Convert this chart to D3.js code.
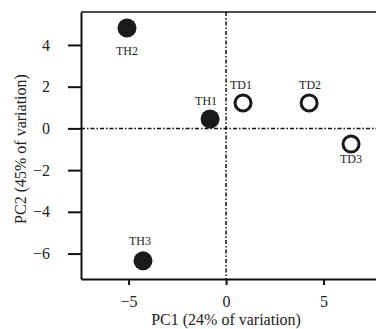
<!DOCTYPE html>
<html>
<head>
<meta charset="utf-8">
<script src="https://cdn.jsdelivr.net/npm/d3@7"></script>
<style>
  body { margin: 0; background: #fff; }
  text { font-family: "Liberation Serif", "Times New Roman", serif; fill: #222; }
</style>
</head>
<body>
<div id="container"></div>
<script>
const samples = ["TH1", "TH2", "TH3", "TD1", "TD2", "TD3"];
const pc1 = [-0.82, -5.08, -4.26, 0.87, 4.26, 6.41];
const pc2 = [0.45, 4.81, -6.35, 1.22, 1.22, -0.75];
const filled = [true, true, true, false, false, false];
const xTicks = [-5, 0, 5];
const yTicks = [-6, -4, -2, 0, 2, 4];

const width = 376;
const height = 329;
const margin = { top: 12, right: 0, bottom: 50, left: 81 };

const svg = d3.select("#container").append("svg")
    .attr("width", width)
    .attr("height", height);

const x = d3.scaleLinear()
    .domain([-7.44, 7.69])
    .range([margin.left, width - margin.right]);

const y = d3.scaleLinear()
    .domain([-7.22, 5.58])
    .range([height - margin.bottom, margin.top]);

// zero reference lines
const dash = "4,2,1.5,2";
svg.append("line")
    .attr("x1", margin.left).attr("x2", width)
    .attr("y1", y(0)).attr("y2", y(0))
    .attr("stroke", "#111").attr("stroke-width", 1.5)
    .attr("stroke-dasharray", dash);
svg.append("line")
    .attr("x1", x(0)).attr("x2", x(0))
    .attr("y1", margin.top).attr("y2", height - margin.bottom)
    .attr("stroke", "#111").attr("stroke-width", 1.5)
    .attr("stroke-dasharray", dash);

// frame: top border
svg.append("line")
    .attr("x1", margin.left).attr("x2", width)
    .attr("y1", margin.top).attr("y2", margin.top)
    .attr("stroke", "#111").attr("stroke-width", 1.5);

const xAxis = svg.append("g")
    .attr("transform", `translate(0,${height - margin.bottom})`)
    .call(d3.axisBottom(x).tickValues(xTicks).tickSize(6).tickSizeOuter(0).tickPadding(11));

const yAxis = svg.append("g")
    .attr("transform", `translate(${margin.left},0)`)
    .call(d3.axisLeft(y).tickValues(yTicks).tickSize(13).tickSizeOuter(0).tickPadding(18));

[xAxis, yAxis].forEach(g => {
    g.attr("font-family", "'Liberation Serif', serif").attr("font-size", 16);
    g.select(".domain").attr("stroke", "#111").attr("stroke-width", 2);
    g.selectAll(".tick line").attr("stroke", "#111").attr("stroke-width", 2);
    g.selectAll(".tick text").attr("fill", "#333");
});

// points
const points = samples.map((s, i) => ({ name: s, x: pc1[i], y: pc2[i], filled: filled[i] }));

svg.append("g").selectAll("circle")
    .data(points)
    .enter().append("circle")
    .attr("cx", d => x(d.x))
    .attr("cy", d => y(d.y))
    .attr("r", d => d.filled ? 9.5 : 8)
    .attr("fill", d => d.filled ? "#1a1a1a" : "#fff")
    .attr("stroke", "#1a1a1a")
    .attr("stroke-width", d => d.filled ? 0 : 3);

// label offsets (pixels) per sample
const labelOffset = {
    TH1: [-4, -14], TH2: [0, 27], TH3: [-3, -16],
    TD1: [-2, -14], TD2: [1, -14], TD3: [0, 19]
};

svg.append("g").selectAll("text")
    .data(points)
    .enter().append("text")
    .attr("x", d => x(d.x) + labelOffset[d.name][0])
    .attr("y", d => y(d.y) + labelOffset[d.name][1])
    .attr("text-anchor", "middle")
    .style("font-size", "12px")
    .text(d => d.name);

// axis labels
svg.append("text")
    .attr("x", x(0))
    .attr("y", 325)
    .attr("text-anchor", "middle")
    .style("font-size", "16px")
    .text("PC1 (24% of variation)");

svg.append("text")
    .attr("transform", `translate(26,149) rotate(-90)`)
    .attr("text-anchor", "middle")
    .style("font-size", "16px")
    .text("PC2 (45% of variation)");
</script>
</body>
</html>
